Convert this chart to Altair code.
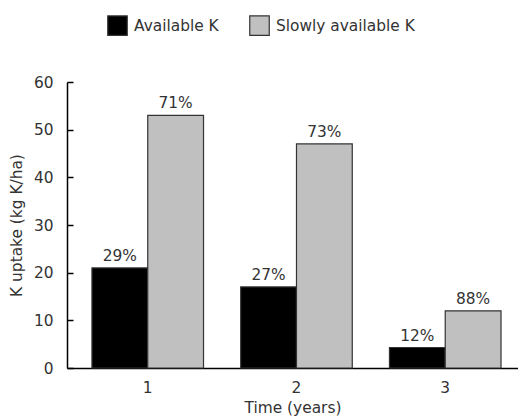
import altair as alt
import pandas as pd

years = ["1", "2", "3"]
types = ["Available K", "Slowly available K"]
available = [21, 17, 4.3]
slowly = [53, 47, 12]
avail_pct = ["29%", "27%", "12%"]
slowly_pct = ["71%", "73%", "88%"]

rows = []
for i, y in enumerate(years):
    rows.append({"year": y, "type": types[0], "value": available[i], "pct": avail_pct[i]})
    rows.append({"year": y, "type": types[1], "value": slowly[i], "pct": slowly_pct[i]})
df = pd.DataFrame(rows)

FONT = "DejaVu Sans"
FS = 15.4
TXT = "#333"

x = alt.X("year:N", title="Time (years)",
          scale=alt.Scale(paddingInner=0.25, paddingOuter=0.141, align=0.595),
          axis=alt.Axis(labelAngle=0, ticks=False, labelPadding=12, titlePadding=5,
                        domainColor="#000", domainWidth=1.5, labelFontSize=FS,
                        titleFontSize=FS, labelColor=TXT, titleColor=TXT,
                        titleFontWeight="normal", labelFont=FONT, titleFont=FONT))
y = alt.Y("value:Q", title="K uptake (kg K/ha)",
          scale=alt.Scale(domain=[0, 60], nice=False),
          axis=alt.Axis(values=list(range(0, 61, 5)),
                        labelExpr="datum.value % 10 == 0 ? datum.label : ''",
                        tickSize={"expr": "-6"}, tickColor="#000", tickWidth=1.5, grid=False,
                        domainColor="#000", domainWidth=1.5, labelPadding=20,
                        labelFontSize=FS, titleFontSize=FS, labelColor=TXT,
                        titleColor=TXT, titleFontWeight="normal", titlePadding=9,
                        labelFont=FONT, titleFont=FONT))

bars = alt.Chart(df).mark_bar(stroke="#333", strokeWidth=1.2).encode(
    x=x,
    xOffset=alt.XOffset("type:N", sort=types),
    y=y,
    color=alt.Color("type:N", sort=types,
                    scale=alt.Scale(domain=types, range=["#000000", "#c0c0c0"]),
                    legend=alt.Legend(title=None, orient="none", direction="horizontal",
                                      legendX=40, legendY=-67, symbolType="square",
                                      symbolSize=380, symbolStrokeColor="#333",
                                      symbolStrokeWidth=1.2, labelFontSize=FS,
                                      labelFont=FONT, labelColor=TXT,
                                      columnPadding=28, labelOffset=6, padding=0)),
)

labels = alt.Chart(df).mark_text(dy=-12, fontSize=FS, font=FONT, color=TXT).encode(
    x=alt.X("year:N"),
    xOffset=alt.XOffset("type:N", sort=types),
    y=alt.Y("value:Q"),
    text="pct:N",
)

chart = alt.layer(bars, labels).properties(
    width=451, height=286,
    autosize=alt.AutoSizeParams(type="none"),
    padding={"left": 59, "top": 74, "right": 0, "bottom": 50},
).configure_view(stroke=None)

chart.save("out.html", embed_options={"renderer": "svg", "actions": False})
